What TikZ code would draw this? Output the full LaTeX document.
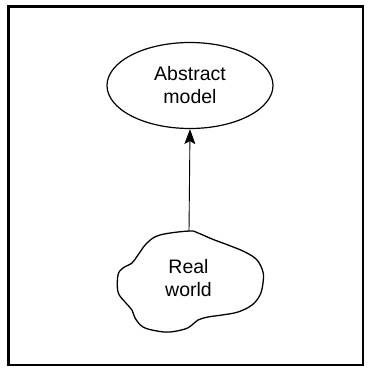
\documentclass[tikz,border=0pt]{standalone}
\usepackage{fontspec}
\setmainfont{Liberation Sans}
\usetikzlibrary{shapes.geometric,arrows.meta}
\tikzset{
  lbl/.style={align=center,font=\fontsize{19.5}{23}\selectfont},
  modelshape/.style={ellipse,draw,line width=1.2pt,minimum width=166pt,minimum height=86pt,inner sep=0pt},
  cloudline/.style={line width=1.3pt,line join=round},
  conn/.style={line width=0.9pt,-{Stealth[length=15pt,width=11pt,inset=3pt]}},
  frame/.style={line width=2.4pt}
}
\begin{document}
\begin{tikzpicture}[x=1pt,y=-1pt]
\useasboundingbox (0,0) rectangle (368,370);
\draw[frame] (8.5,6.5) rectangle (363,365);
\node[modelshape,lbl] (abs) at (190,85.5) {Abstract\\model};
\draw[cloudline] plot[smooth cycle,tension=0.6] coordinates {
 (189,231) (198,233) (212,239) (228,245) (245,252) (257,260) (263,272)
 (263,283) (260,295) (252,305) (238,312) (222,315) (208,317) (198,320)
 (192,325) (185,329) (170,332) (157,331) (143,327) (135,318) (132,310)
 (125,302) (118,292) (118,275) (123,268) (132,263) (138,255) (147,243)
 (160,235)};
\node[lbl] (real) at (188.5,278) {Real\\world};
\coordinate (cloudtop) at (189,231.5);
\draw[conn] (cloudtop) -- (abs.south);
\end{tikzpicture}
\end{document}
